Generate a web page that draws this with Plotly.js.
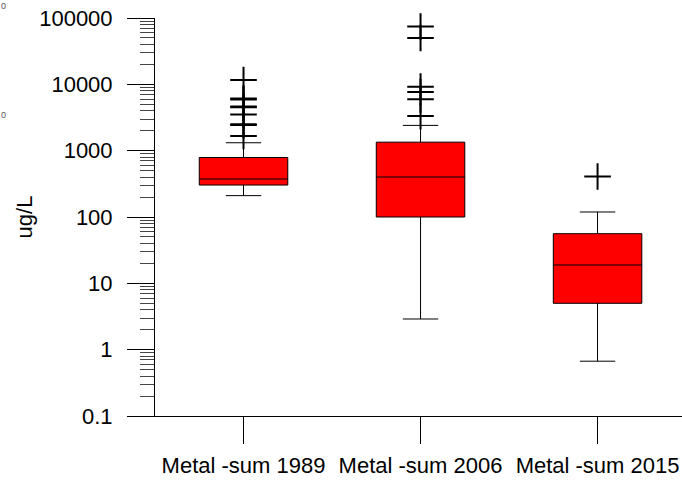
<!DOCTYPE html>
<html>
<head>
<meta charset="utf-8">
<script src="https://cdn.plot.ly/plotly-3.0.1.min.js"></script>
<style>
  html, body { margin: 0; padding: 0; background: #fff; }
  #chart { width: 682px; height: 480px; }
</style>
</head>
<body>
<div id="chart"></div>
<script>
// ---- data ----
var categories = ['Metal -sum 1989', 'Metal -sum 2006', 'Metal -sum 2015'];
var lowerWhisker = [210, 2.9, 0.67];
var q1Values = [303, 100, 5.0];
var medianValues = [374, 401, 18.9];
var q3Values = [789, 1343, 56];
var upperWhisker = [1316, 2404, 119];
var outliers1989 = [11600, 6100, 5900, 4650, 4500, 3520, 2500, 2430, 1660];
var outliers2006 = [74400, 50000, 9230, 7650, 5935, 3320];
var outliers2015 = [408];
var yTickVals = [0.1, 1, 10, 100, 1000, 10000, 100000];
var yTickText = ['0.1', '1', '10', '100', '1000', '10000', '100000'];

// ---- build traces ----
var outlierGroups = [outliers1989, outliers2006, outliers2015];
var ox = [], oy = [];
outlierGroups.forEach(function (g, i) {
  g.forEach(function (v) { ox.push(categories[i]); oy.push(v); });
});

var minorVals = [];
for (var e = -1; e < 5; e++) {
  for (var d = 2; d <= 9; d++) minorVals.push(d * Math.pow(10, e));
}

var FONT = 'Liberation Sans, Arial, sans-serif';

var boxTrace = {
  type: 'box',
  x: categories,
  q1: q1Values,
  median: medianValues,
  q3: q3Values,
  lowerfence: lowerWhisker,
  upperfence: upperWhisker,
  width: 0.5,
  whiskerwidth: 0.4,
  fillcolor: '#ff0000',
  line: { color: '#000000', width: 1 },
  boxpoints: false,
  hoverinfo: 'skip',
  showlegend: false
};

var outlierTrace = {
  type: 'scatter',
  mode: 'markers',
  x: ox,
  y: oy,
  marker: { symbol: 'cross-thin', size: 19, color: '#000', line: { color: '#000', width: 2 } },
  hoverinfo: 'skip',
  showlegend: false,
  cliponaxis: false
};

var layout = {
  width: 682,
  height: 480,
  margin: { l: 155, r: 0, t: 18, b: 64 },
  paper_bgcolor: '#fff',
  plot_bgcolor: '#fff',
  font: { family: FONT, size: 22, color: '#000' },
  showlegend: false,
  xaxis: {
    type: 'category',
    range: [-0.5, 2.477],
    showline: true,
    linecolor: '#000',
    linewidth: 1,
    ticks: 'outside',
    ticklen: 27,
    tickwidth: 1,
    tickcolor: '#000',
    ticklabelstandoff: 3,
    showgrid: false,
    zeroline: false,
    tickfont: { family: FONT, size: 22, color: '#000' },
    automargin: false,
    fixedrange: true
  },
  yaxis: {
    type: 'log',
    range: [-1, 5],
    tickmode: 'array',
    tickvals: yTickVals,
    ticktext: yTickText,
    showline: true,
    linecolor: '#000',
    linewidth: 1,
    ticks: 'outside',
    ticklen: 27,
    tickwidth: 1,
    tickcolor: '#000',
    ticklabelstandoff: 10,
    showgrid: false,
    zeroline: false,
    tickfont: { family: FONT, size: 22, color: '#000' },
    minor: {
      tickmode: 'array',
      tickvals: minorVals,
      ticks: 'outside',
      ticklen: 14,
      tickwidth: 1,
      tickcolor: '#444',
      showgrid: false
    },
    title: { text: 'ug/L', font: { family: FONT, size: 22, color: '#000' }, standoff: 0 },
    automargin: false,
    fixedrange: true
  },
  annotations: [
    { xref: 'paper', yref: 'paper', x: -0.296, y: 1.03, xanchor: 'left', yanchor: 'middle',
      text: '0', showarrow: false, font: { family: FONT, size: 9, color: '#555' } },
    { xref: 'paper', yref: 'paper', x: -0.296, y: 0.757, xanchor: 'left', yanchor: 'middle',
      text: '0', showarrow: false, font: { family: FONT, size: 9, color: '#555' } }
  ]
};

Plotly.newPlot('chart', [boxTrace, outlierTrace], layout, { staticPlot: true, displayModeBar: false });
</script>
</body>
</html>
